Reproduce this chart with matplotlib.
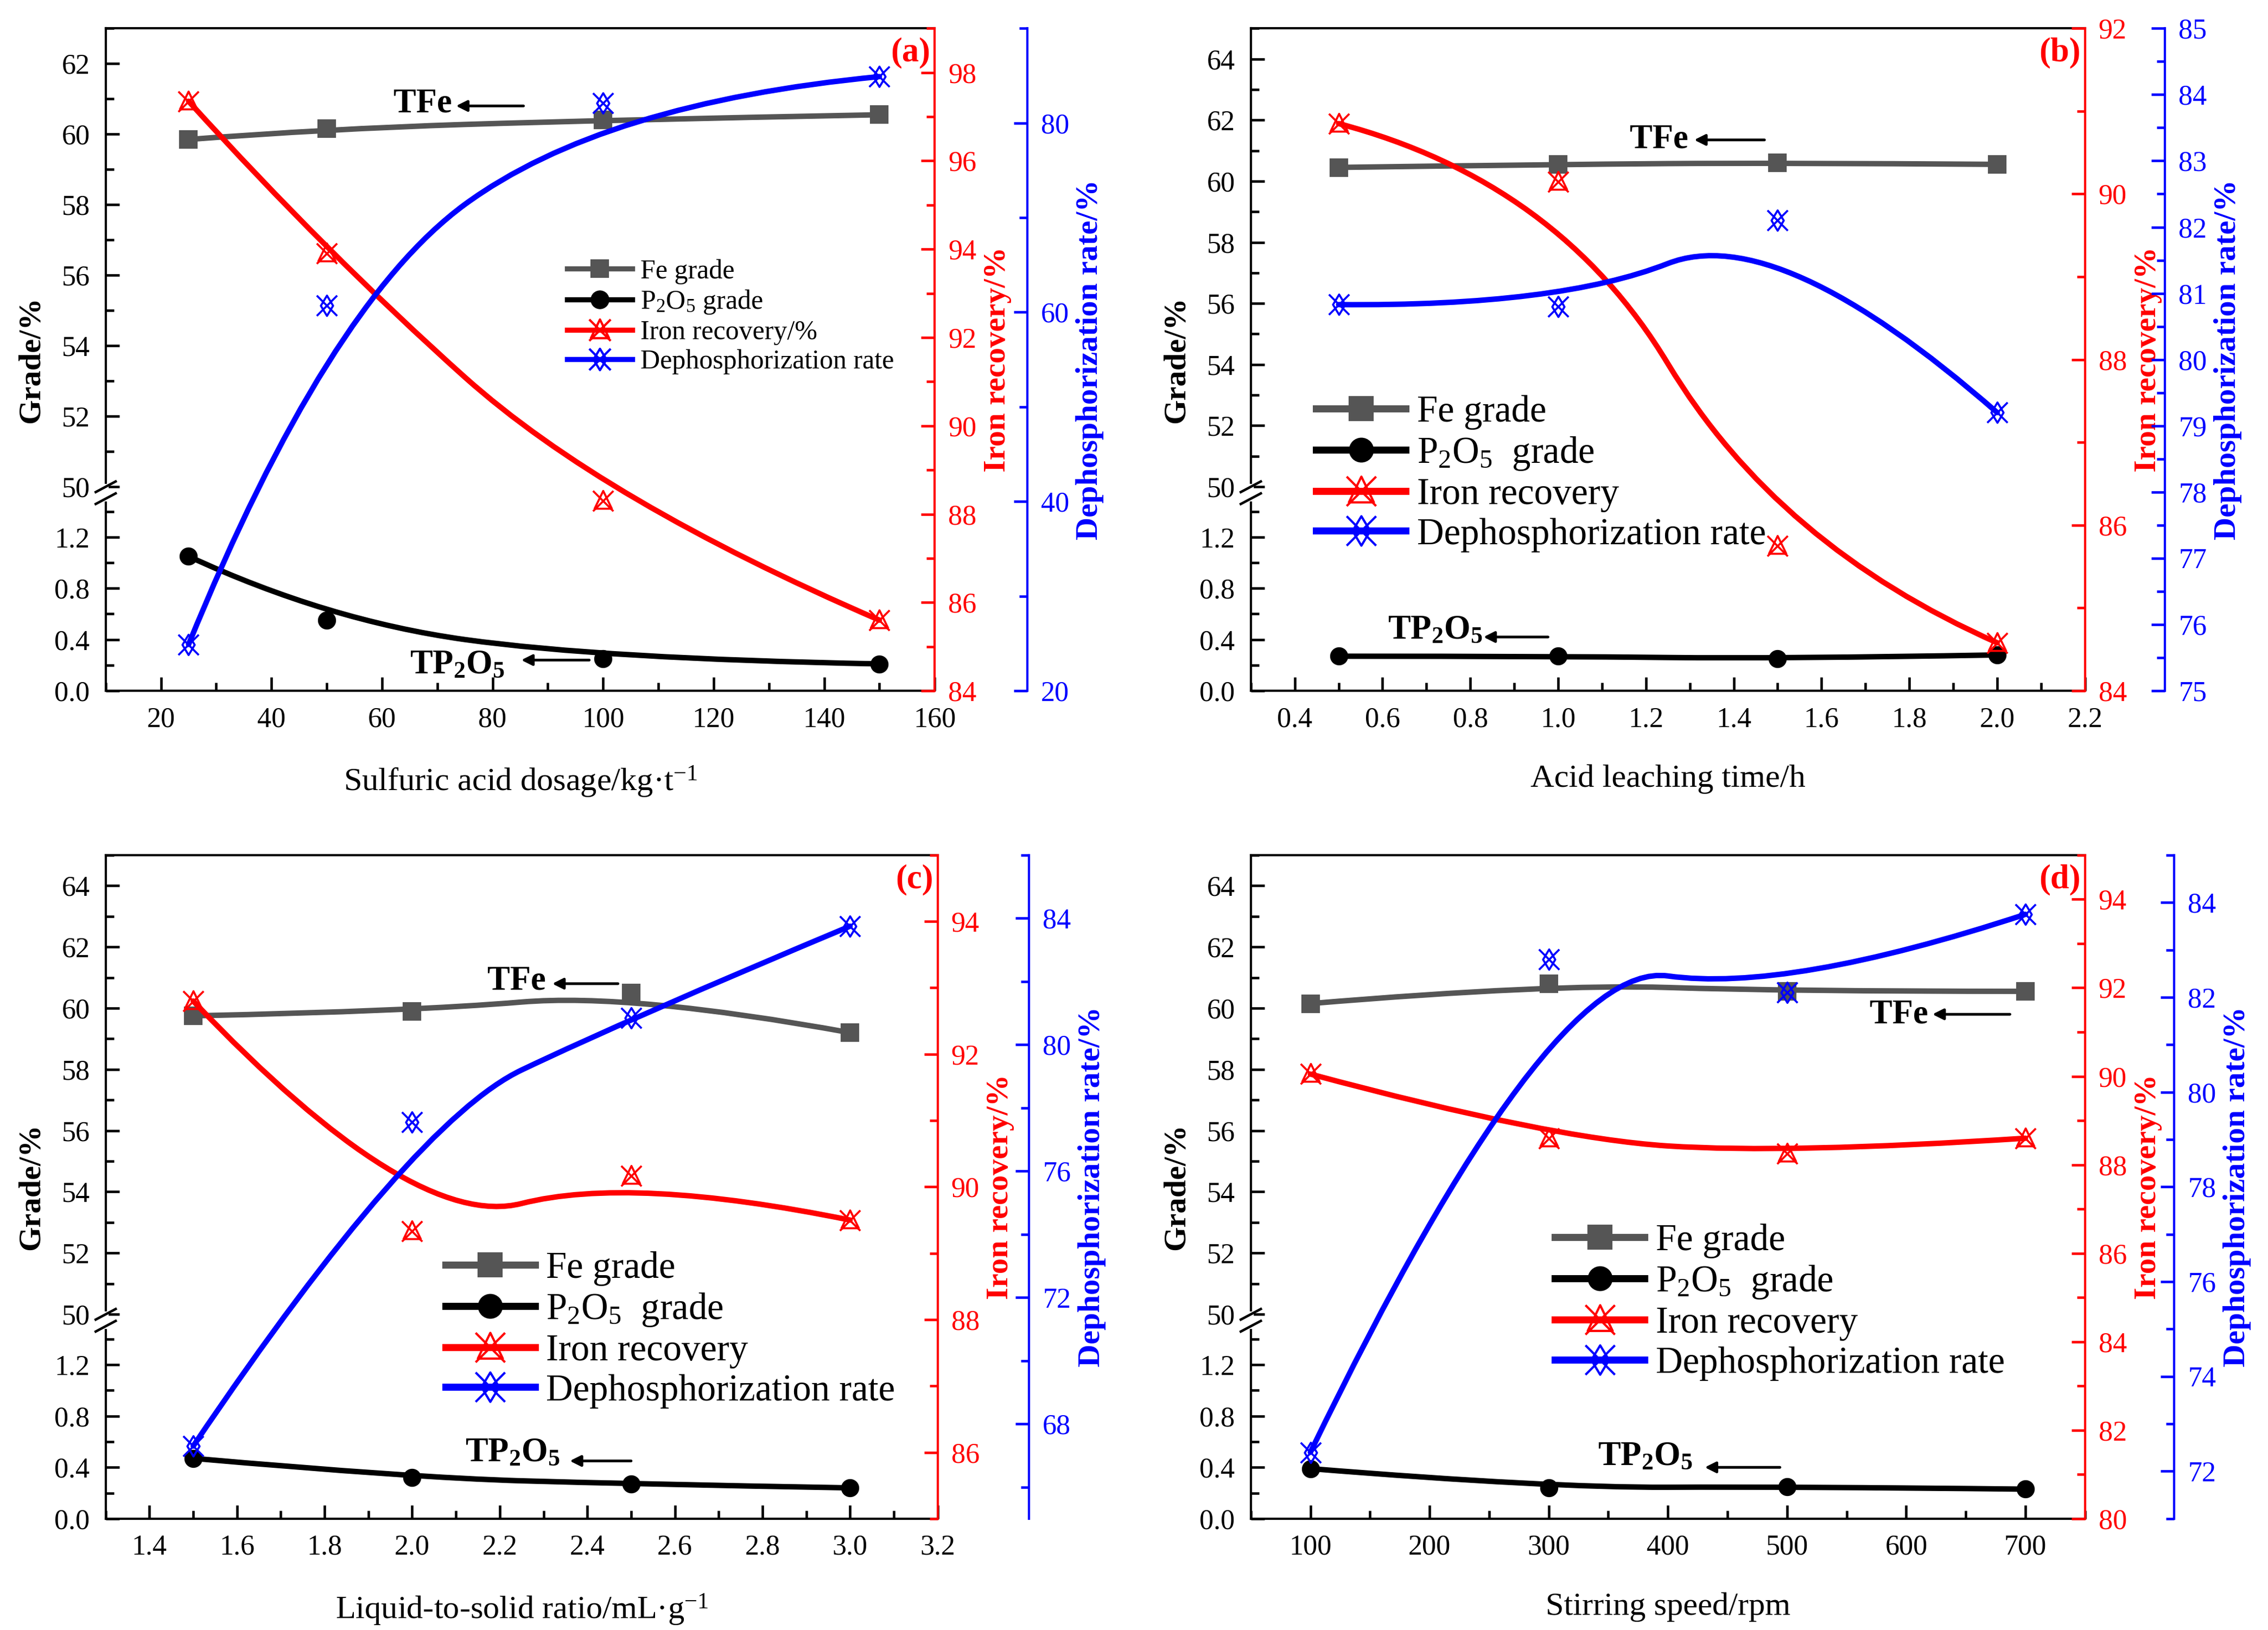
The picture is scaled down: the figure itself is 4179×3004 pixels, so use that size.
import numpy as np
import matplotlib
matplotlib.use('Agg')
import matplotlib.pyplot as plt
from matplotlib.path import Path
from matplotlib.patches import PathPatch
from matplotlib.lines import Line2D
from matplotlib.ticker import FixedLocator, FuncFormatter, MultipleLocator

# ---------------- data ----------------
xa = [25, 50, 100, 150]
fe_a = [59.85, 60.15, 60.4, 60.55]
p_a = [1.05, 0.55, 0.25, 0.21]
rec_a = [97.35, 93.9, 88.3, 85.6]
dep_a = [24.9, 60.7, 82.1, 84.9]

xb = [0.5, 1.0, 1.5, 2.0]
fe_b = [60.45, 60.55, 60.6, 60.55]
p_b = [0.27, 0.27, 0.25, 0.28]
rec_b = [90.85, 90.15, 85.75, 84.58]
dep_b = [80.83, 80.8, 82.1, 79.2]

xc = [1.5, 2.0, 2.5, 3.0]
fe_c = [59.75, 59.9, 60.5, 59.2]
p_c = [0.47, 0.32, 0.27, 0.24]
rec_c = [92.8, 89.33, 90.17, 89.5]
dep_c = [67.3, 77.55, 80.85, 83.75]

xd = [100, 300, 500, 700]
fe_d = [60.15, 60.8, 60.55, 60.55]
p_d = [0.39, 0.24, 0.25, 0.23]
rec_d = [90.05, 88.6, 88.25, 88.6]
dep_d = [72.4, 82.8, 82.1, 83.75]

xlabels = ['Sulfuric acid dosage/kg·t$^{-1}$', 'Acid leaching time/h',
           'Liquid-to-solid ratio/mL·g$^{-1}$', 'Stirring speed/rpm']
legend_a = ['Fe grade', 'P$_2$O$_5$ grade', 'Iron recovery/%', 'Dephosphorization rate']
legend_other = ['Fe grade', 'P$_2$O$_5$  grade', 'Iron recovery', 'Dephosphorization rate']
panel_tags = ['(a)', '(b)', '(c)', '(d)']

# ---------------- style ----------------
plt.rcParams.update({
    'font.family': ['Liberation Serif', 'DejaVu Serif'],
    'mathtext.fontset': 'custom',
    'mathtext.rm': 'Liberation Serif',
    'mathtext.it': 'Liberation Serif:italic',
    'mathtext.bf': 'Liberation Serif:bold',
    'axes.linewidth': 1.0,
})

FE_C = '#555555'
RED = '#ff0000'
BLUE = '#0000ff'
LW = 2.4

red_marker = Path([(-1, 1), (1, -1), (1, 1), (-1, -1),
                   (0, 1), (-0.85, -0.75), (0.85, -0.75), (0, 1)],
                  [Path.MOVETO, Path.LINETO, Path.MOVETO, Path.LINETO,
                   Path.MOVETO, Path.LINETO, Path.LINETO, Path.CLOSEPOLY])
blue_marker = Path([(-1, 1), (1, -1), (1, 1), (-1, -1),
                    (0, 1), (0.6, 0), (0, -1), (-0.6, 0), (0, 1)],
                   [Path.MOVETO, Path.LINETO, Path.MOVETO, Path.LINETO,
                    Path.MOVETO, Path.LINETO, Path.LINETO, Path.LINETO, Path.CLOSEPOLY])


def bspline_path(x, y):
    pts = np.column_stack([x, y]).astype(float)
    verts = [pts[0]]
    codes = [Path.MOVETO]
    n = len(pts)
    for i in range(1, n - 1):
        verts.append(pts[i])
        end = pts[i + 1] if i == n - 2 else (pts[i] + pts[i + 1]) / 2
        verts.append(end)
        codes += [Path.CURVE3, Path.CURVE3]
    return Path(verts, codes)


FL, GAP = 0.29, 0.018


def broken_funcs(L, U, fl=FL, g=GAP):
    xp = np.array([0.0, L, 50.0, U])
    fp = np.array([0.0, fl, fl + g, 1.0])

    def fwd(v):
        v = np.asarray(v, float)
        out = np.interp(v, xp, fp)
        out = np.where(v < 0, v / L * fl, out)
        out = np.where(v > U, 1 + (v - U) / (U - 50) * (1 - fl - g), out)
        return out

    def inv(w):
        w = np.asarray(w, float)
        out = np.interp(w, fp, xp)
        out = np.where(w < 0, w * L / fl, out)
        out = np.where(w > 1, U + (w - 1) * (U - 50) / (1 - fl - g), out)
        return out
    return fwd, inv


panels = [
    dict(x=xa, fe=fe_a, p=p_a, rec=rec_a, dep=dep_a,
         pos=[0.0466, 0.5762, 0.3655, 0.4064], boff=1.1116, U=63,
         xlim=(10, 160), xmaj=np.arange(20, 161, 20), xmin=10, xfmt='{:.0f}',
         rlim=(84, 99), rmaj=np.arange(84, 99, 2), rmin=1,
         blim=(20, 90), bmaj=np.arange(20, 81, 20), bmin=10,
         tfe=((67.4, 60.85), (73.4, 60.8), (85.6, 60.8)),
         tp=((73.6, 0.2), (85.2, 0.24), (97.5, 0.24)),
         leg=(0.25, 0.8412), legfs=12, labels=legend_a),
    dict(x=xb, fe=fe_b, p=p_b, rec=rec_b, dep=dep_b,
         pos=[0.5515, 0.5762, 0.3678, 0.4064], boff=1.096, U=65,
         xlim=(0.3, 2.2), xmaj=np.arange(0.4, 2.21, 0.2), xmin=0.1, xfmt='{:.1f}',
         rlim=(84, 92), rmaj=np.arange(84, 93, 2), rmin=1,
         blim=(75, 85), bmaj=np.arange(75, 86, 1), bmin=0.5,
         tfe=((1.23, 61.35), (1.31, 61.35), (1.47, 61.35)),
         tp=((0.72, 0.47), (0.83, 0.42), (0.977, 0.42)),
         leg=(0.5804, 0.7578), legfs=16.5, labels=legend_other),
    dict(x=xc, fe=fe_c, p=p_c, rec=rec_c, dep=dep_c,
         pos=[0.0466, 0.0683, 0.3668, 0.4071], boff=1.110, U=65,
         xlim=(1.3, 3.2), xmaj=np.arange(1.4, 3.21, 0.2), xmin=0.1, xfmt='{:.1f}',
         rlim=(85, 95), rmaj=np.arange(86, 95, 2), rmin=1,
         blim=(65, 86), bmaj=np.arange(68, 85, 4), bmin=2,
         tfe=((2.238, 60.87), (2.32, 60.8), (2.47, 60.8)),
         tp=((2.23, 0.51), (2.36, 0.45), (2.5, 0.45)),
         leg=(0.1964, 0.2325), legfs=16.5, labels=legend_other),
    dict(x=xd, fe=fe_d, p=p_d, rec=rec_d, dep=dep_d,
         pos=[0.5515, 0.0683, 0.3678, 0.4071], boff=1.107, U=65,
         xlim=(50, 750), xmaj=np.arange(100, 701, 100), xmin=50, xfmt='{:.0f}',
         rlim=(80, 95), rmaj=np.arange(80, 95, 2), rmin=1,
         blim=(71, 85), bmaj=np.arange(72, 85, 2), bmin=1,
         tfe=((594, 59.77), (622, 59.8), (687, 59.8)),
         tp=((381, 0.48), (431, 0.40), (494, 0.40)),
         leg=(0.6856, 0.2493), legfs=16.5, labels=legend_other),
]

TICK_FS = 12.5
LABEL_FS = 14
ANN_FS = 15

fig = plt.figure(figsize=(4179 / 300, 3004 / 300), dpi=300)

for k, P in enumerate(panels):
    ax = fig.add_axes(P['pos'])
    fwd, inv = broken_funcs(1.5, P['U'])
    ax.set_yscale('function', functions=(fwd, inv))
    ax.set_ylim(0, P['U'])
    ax.set_xlim(*P['xlim'])
    lower_major = [0.0, 0.4, 0.8, 1.2]
    lower_minor = [0.2, 0.6, 1.0, 1.4]
    upper_major = list(range(50, P['U'] + 1, 2))
    upper_minor = list(range(51, P['U'] + 1, 2))
    ax.yaxis.set_major_locator(FixedLocator(lower_major + upper_major))
    ax.yaxis.set_minor_locator(FixedLocator(lower_minor + upper_minor))
    ax.yaxis.set_major_formatter(FuncFormatter(
        lambda v, p: f'{v:.1f}' if v < 10 else f'{v:.0f}'))
    ax.yaxis.set_minor_formatter(FuncFormatter(lambda v, p: ''))
    ax.xaxis.set_major_locator(FixedLocator(P['xmaj']))
    ax.xaxis.set_minor_locator(MultipleLocator(P['xmin']))
    fmt = P['xfmt']
    ax.xaxis.set_major_formatter(FuncFormatter(lambda v, p, fmt=fmt: fmt.format(v)))
    ax.tick_params(which='both', direction='in', top=False, right=False,
                   labelsize=TICK_FS, width=1.1, pad=7)
    ax.tick_params(which='major', length=6)
    ax.tick_params(which='minor', length=3.5)
    ax.spines['right'].set_visible(False)
    ax.set_ylabel('Grade/%', fontsize=LABEL_FS, fontweight='bold', labelpad=4)
    ax.set_xlabel(xlabels[k], fontsize=14.5, labelpad=14)

    # broken-axis marks
    yb0 = FL
    yb1 = FL + GAP
    ax.plot([0, 0], [yb0, yb1], transform=ax.transAxes, color='white',
            lw=2.5, clip_on=False, zorder=10)
    for yy in (yb0, yb1):
        ax.plot([-0.012, 0.012], [yy - 0.008, yy + 0.008], transform=ax.transAxes,
                color='black', lw=1.1, clip_on=False, zorder=11)

    # Fe grade and P2O5 grade
    ax.add_patch(PathPatch(bspline_path(P['x'], P['fe']), fill=False,
                           edgecolor=FE_C, lw=LW, capstyle='round'))
    ax.plot(P['x'], P['fe'], ls='none', marker='s', ms=7, color=FE_C)
    ax.add_patch(PathPatch(bspline_path(P['x'], P['p']), fill=False,
                           edgecolor='black', lw=LW, capstyle='round'))
    ax.plot(P['x'], P['p'], ls='none', marker='o', ms=7, color='black')

    # annotations
    (tx, ty), (hx, hy), (sx, sy) = P['tfe']
    ax.text(tx, ty, 'TFe', fontsize=ANN_FS, fontweight='bold', ha='center', va='center')
    ax.annotate('', xy=(hx, hy), xytext=(sx, sy),
                arrowprops=dict(arrowstyle='-|>', lw=1.2, color='black',
                                mutation_scale=10, shrinkA=0, shrinkB=0))
    (tx, ty), (hx, hy), (sx, sy) = P['tp']
    ax.text(tx, ty, r'$\mathbf{TP_2O_5}$', fontsize=ANN_FS, ha='center', va='center')
    ax.annotate('', xy=(hx, hy), xytext=(sx, sy),
                arrowprops=dict(arrowstyle='-|>', lw=1.2, color='black',
                                mutation_scale=10, shrinkA=0, shrinkB=0))
    ax.text(0.995, 0.963, panel_tags[k], transform=ax.transAxes, color=RED,
            fontsize=ANN_FS, fontweight='bold', ha='right', va='center')

    # iron recovery axis
    rax = ax.twinx()
    rax.set_ylim(*P['rlim'])
    rax.yaxis.set_major_locator(FixedLocator(P['rmaj']))
    rax.yaxis.set_minor_locator(MultipleLocator(P['rmin']))
    for s in ('left', 'top', 'bottom'):
        rax.spines[s].set_visible(False)
    rax.spines['right'].set_color(RED)
    rax.tick_params(which='both', direction='in', colors=RED, labelsize=TICK_FS,
                    width=1.1, pad=6)
    rax.tick_params(which='major', length=6)
    rax.tick_params(which='minor', length=3.5)
    rax.set_ylabel('Iron recovery/%', color=RED, fontsize=LABEL_FS,
                   fontweight='bold', labelpad=3)
    rax.add_patch(PathPatch(bspline_path(P['x'], P['rec']), fill=False,
                            edgecolor=RED, lw=LW, capstyle='round'))
    rax.plot(P['x'], P['rec'], ls='none', marker=red_marker, ms=9, mew=0.9,
             mfc='none', mec=RED)

    # dephosphorization axis
    bax = ax.twinx()
    bax.spines['right'].set_position(('axes', P['boff']))
    bax.set_ylim(*P['blim'])
    bax.yaxis.set_major_locator(FixedLocator(P['bmaj']))
    bax.yaxis.set_minor_locator(MultipleLocator(P['bmin']))
    for s in ('left', 'top', 'bottom'):
        bax.spines[s].set_visible(False)
    bax.spines['right'].set_color(BLUE)
    bax.tick_params(which='both', direction='in', colors=BLUE, labelsize=TICK_FS,
                    width=1.1, pad=6)
    bax.tick_params(which='major', length=6)
    bax.tick_params(which='minor', length=3.5)
    bax.set_ylabel('Dephosphorization rate/%', color=BLUE, fontsize=LABEL_FS,
                   fontweight='bold', labelpad=3)
    bax.add_patch(PathPatch(bspline_path(P['x'], P['dep']), fill=False,
                            edgecolor=BLUE, lw=LW, capstyle='round'))
    bax.plot(P['x'], P['dep'], ls='none', marker=blue_marker, ms=9, mew=0.9,
             mfc='none', mec=BLUE)

    fs = P['legfs']
    msc = fs / 16.5
    handles = [
        Line2D([], [], color=FE_C, lw=LW * 1.3 * msc, marker='s', ms=10 * msc),
        Line2D([], [], color='black', lw=LW * 1.3 * msc, marker='o', ms=10 * msc),
        Line2D([], [], color=RED, lw=LW * 1.3 * msc, marker=red_marker, ms=13 * msc,
               mfc='none', mec=RED, mew=1.0),
        Line2D([], [], color=BLUE, lw=LW * 1.3 * msc, marker=blue_marker, ms=13 * msc,
               mfc='none', mec=BLUE, mew=1.0),
    ]
    leg = bax.legend(handles, P['labels'], loc='upper left',
                     bbox_to_anchor=P['leg'], bbox_transform=fig.transFigure,
                     frameon=False, fontsize=fs, handlelength=2.4,
                     handletextpad=0.3, labelspacing=0.15, borderpad=0,
                     borderaxespad=0)

fig.savefig('out.png', dpi=300)
